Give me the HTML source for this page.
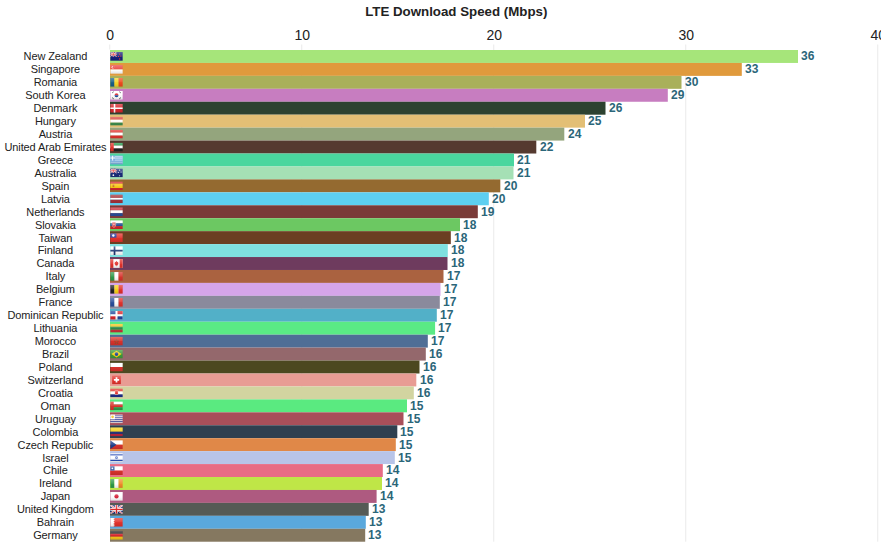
<!DOCTYPE html>
<html><head><meta charset="utf-8"><title>LTE Download Speed (Mbps)</title>
<style>
html,body{margin:0;padding:0;background:#fff;}
body{width:881px;height:551px;position:relative;overflow:hidden;font-family:"Liberation Sans",sans-serif;}
.t{position:absolute;left:156.25px;width:600px;top:4px;text-align:center;font-weight:bold;font-size:13.3px;line-height:16px;color:#222;}
.ax{position:absolute;top:27px;width:40px;margin-left:-20px;text-align:center;font-size:14px;line-height:16px;color:#222;}
.l{position:absolute;left:0;width:110.8px;letter-spacing:-0.1px;text-align:center;font-size:11px;line-height:13px;color:#222;white-space:nowrap;}
.v{position:absolute;font-size:12px;font-weight:bold;line-height:13px;color:#2b6679;}
#c{position:absolute;left:0;top:0;width:881px;height:551px;display:block;}
#w{position:absolute;left:0;top:0;width:881px;height:551px;overflow:hidden;}
</style></head><body><div id="w">
<div class="t">LTE Download Speed (Mbps)</div>

<svg id="c" viewBox="0 0 881 551">
<defs><linearGradient id="gl" x1="0" y1="0" x2="0" y2="1"><stop offset="0" stop-color="#fff" stop-opacity="0.3"/><stop offset="0.5" stop-color="#fff" stop-opacity="0.08"/><stop offset="0.55" stop-color="#000" stop-opacity="0"/><stop offset="1" stop-color="#000" stop-opacity="0.12"/></linearGradient></defs>
<rect x="109.25" y="44.5" width="1" height="5.0" fill="#eaeaea"/>
<rect x="301.25" y="44.5" width="1" height="497.2" fill="#eaeaea"/>
<rect x="493.25" y="44.5" width="1" height="497.2" fill="#eaeaea"/>
<rect x="685.25" y="44.5" width="1" height="497.2" fill="#eaeaea"/>
<rect x="877.25" y="44.5" width="1" height="497.2" fill="#eaeaea"/>
<rect x="110.0" y="50.000" width="688.0" height="12.94" fill="#a6e57a"/>
<svg x="110.20" y="52.07" width="12.6" height="8.8" viewBox="0 0 16 11" preserveAspectRatio="none"><rect width="16" height="11" fill="#17207c"/><rect width="8" height="5.5" fill="#1b2d7a"/><path d="M0 0L8 5.5M8 0L0 5.5" stroke="#fff" stroke-width="1.2"/><path d="M0 0L8 5.5M8 0L0 5.5" stroke="#d22" stroke-width="0.5"/><path d="M4 0V5.5M0 2.75H8" stroke="#fff" stroke-width="1.8"/><path d="M4 0V5.5M0 2.75H8" stroke="#d22" stroke-width="1"/><circle cx="12" cy="2.5" r="0.8" fill="#e33"/><circle cx="10.5" cy="5.5" r="0.8" fill="#e33"/><circle cx="13.5" cy="5" r="0.8" fill="#e33"/><circle cx="12" cy="8.7" r="0.9" fill="#e33"/><rect width="16" height="11" fill="url(#gl)"/></svg>
<rect x="110.0" y="62.940" width="631.8" height="12.94" fill="#e09a3c"/>
<svg x="110.20" y="65.01" width="12.6" height="8.8" viewBox="0 0 16 11" preserveAspectRatio="none"><rect x="0" y="0.00" width="16" height="5.55" fill="#e8413c"/><rect x="0" y="5.50" width="16" height="5.55" fill="#ffffff"/><circle cx="3.6" cy="2.8" r="1.7" fill="#fff"/><circle cx="4.4" cy="2.8" r="1.5" fill="#e8413c"/><rect width="16" height="11" fill="url(#gl)"/></svg>
<rect x="110.0" y="75.880" width="571.5" height="12.94" fill="#a9b05a"/>
<svg x="110.20" y="77.95" width="12.6" height="8.8" viewBox="0 0 16 11" preserveAspectRatio="none"><rect x="0.00" y="0" width="5.38" height="11" fill="#175f88"/><rect x="5.33" y="0" width="5.38" height="11" fill="#f7d62a"/><rect x="10.67" y="0" width="5.38" height="11" fill="#f04a1c"/><rect width="16" height="11" fill="url(#gl)"/></svg>
<rect x="110.0" y="88.820" width="557.8" height="12.94" fill="#c77dc0"/>
<svg x="110.20" y="90.89" width="12.6" height="8.8" viewBox="0 0 16 11" preserveAspectRatio="none"><rect width="16" height="11" fill="#fff"/><path d="M5.5 5.5a2.5 2.5 0 0 1 5 0z" fill="#d8262c"/><path d="M5.5 5.5a2.5 2.5 0 0 0 5 0z" fill="#1f4a9c"/><path d="M2.5 2.5l2-1.5M11.5 1l2 1.5M2.5 8.5l2 1.5M11.5 10l2-1.5" stroke="#222" stroke-width="1"/><rect width="16" height="11" fill="url(#gl)"/></svg>
<rect x="110.0" y="101.760" width="495.5" height="12.94" fill="#2d4230"/>
<svg x="110.20" y="103.83" width="12.6" height="8.8" viewBox="0 0 16 11" preserveAspectRatio="none"><rect width="16" height="11" fill="#d8262c"/><path d="M5.5 0V11M0 5.5H16" stroke="#fff" stroke-width="2"/><rect width="16" height="11" fill="url(#gl)"/></svg>
<rect x="110.0" y="114.700" width="475.0" height="12.94" fill="#e3bf75"/>
<svg x="110.20" y="116.77" width="12.6" height="8.8" viewBox="0 0 16 11" preserveAspectRatio="none"><rect x="0" y="0.00" width="16" height="3.72" fill="#d8433c"/><rect x="0" y="3.67" width="16" height="3.72" fill="#ffffff"/><rect x="0" y="7.33" width="16" height="3.72" fill="#3f8f4f"/><rect width="16" height="11" fill="url(#gl)"/></svg>
<rect x="110.0" y="127.640" width="454.3" height="12.94" fill="#94a57d"/>
<svg x="110.20" y="129.71" width="12.6" height="8.8" viewBox="0 0 16 11" preserveAspectRatio="none"><rect x="0" y="0.00" width="16" height="3.72" fill="#e2322c"/><rect x="0" y="3.67" width="16" height="3.72" fill="#ffffff"/><rect x="0" y="7.33" width="16" height="3.72" fill="#e2322c"/><rect width="16" height="11" fill="url(#gl)"/></svg>
<rect x="110.0" y="140.580" width="426.3" height="12.94" fill="#553a30"/>
<svg x="110.20" y="142.65" width="12.6" height="8.8" viewBox="0 0 16 11" preserveAspectRatio="none"><rect x="0" y="0.00" width="16" height="3.72" fill="#1f9a4a"/><rect x="0" y="3.67" width="16" height="3.72" fill="#ffffff"/><rect x="0" y="7.33" width="16" height="3.72" fill="#222222"/><rect width="4.5" height="11" fill="#e2322c"/><rect width="16" height="11" fill="url(#gl)"/></svg>
<rect x="110.0" y="153.520" width="404.0" height="12.94" fill="#4ad69e"/>
<svg x="110.20" y="155.59" width="12.6" height="8.8" viewBox="0 0 16 11" preserveAspectRatio="none"><rect width="16" height="11" fill="#7fb2e0"/><path d="M0 1.8H16M0 4.3H16M0 6.7H16M0 9.2H16" stroke="#fff" stroke-width="1.2" opacity="0.0"/><rect x="0" y="0.00" width="16" height="1.27" fill="#6aa6dc"/><rect x="0" y="1.22" width="16" height="1.27" fill="#d4e6f6"/><rect x="0" y="2.44" width="16" height="1.27" fill="#6aa6dc"/><rect x="0" y="3.67" width="16" height="1.27" fill="#d4e6f6"/><rect x="0" y="4.89" width="16" height="1.27" fill="#6aa6dc"/><rect x="0" y="6.11" width="16" height="1.27" fill="#d4e6f6"/><rect x="0" y="7.33" width="16" height="1.27" fill="#6aa6dc"/><rect x="0" y="8.56" width="16" height="1.27" fill="#d4e6f6"/><rect x="0" y="9.78" width="16" height="1.27" fill="#6aa6dc"/><rect width="6.1" height="6.1" fill="#6aa6dc"/><path d="M3.05 0V6.1M0 3.05H6.1" stroke="#fff" stroke-width="1.2"/><rect width="16" height="11" fill="url(#gl)"/></svg>
<rect x="110.0" y="166.460" width="403.5" height="12.94" fill="#a5e0b5"/>
<svg x="110.20" y="168.53" width="12.6" height="8.8" viewBox="0 0 16 11" preserveAspectRatio="none"><rect width="16" height="11" fill="#1b2d7a"/><rect width="8" height="5.5" fill="#1b2d7a"/><path d="M0 0L8 5.5M8 0L0 5.5" stroke="#fff" stroke-width="1.2"/><path d="M0 0L8 5.5M8 0L0 5.5" stroke="#d22" stroke-width="0.5"/><path d="M4 0V5.5M0 2.75H8" stroke="#fff" stroke-width="1.8"/><path d="M4 0V5.5M0 2.75H8" stroke="#d22" stroke-width="1"/><circle cx="4" cy="8.3" r="1.1" fill="#fff"/><circle cx="12" cy="2" r="0.7" fill="#fff"/><circle cx="10.3" cy="5" r="0.7" fill="#fff"/><circle cx="13.8" cy="4.3" r="0.7" fill="#fff"/><circle cx="12" cy="9" r="0.7" fill="#fff"/><rect width="16" height="11" fill="url(#gl)"/></svg>
<rect x="110.0" y="179.400" width="390.3" height="12.94" fill="#946a30"/>
<svg x="110.20" y="181.47" width="12.6" height="8.8" viewBox="0 0 16 11" preserveAspectRatio="none"><rect x="0" y="0.00" width="16" height="2.80" fill="#d8262c"/><rect x="0" y="2.75" width="16" height="5.55" fill="#f9c81a"/><rect x="0" y="8.25" width="16" height="2.80" fill="#d8262c"/><rect x="3" y="4" width="2.2" height="3" fill="#c9772a"/><rect width="16" height="11" fill="url(#gl)"/></svg>
<rect x="110.0" y="192.340" width="378.8" height="12.94" fill="#5dcff0"/>
<svg x="110.20" y="194.41" width="12.6" height="8.8" viewBox="0 0 16 11" preserveAspectRatio="none"><rect x="0" y="0.00" width="16" height="4.45" fill="#a5343a"/><rect x="0" y="4.40" width="16" height="2.25" fill="#ffffff"/><rect x="0" y="6.60" width="16" height="4.45" fill="#a5343a"/><rect width="16" height="11" fill="url(#gl)"/></svg>
<rect x="110.0" y="205.280" width="367.8" height="12.94" fill="#7a3a38"/>
<svg x="110.20" y="207.35" width="12.6" height="8.8" viewBox="0 0 16 11" preserveAspectRatio="none"><rect x="0" y="0.00" width="16" height="3.72" fill="#c8313a"/><rect x="0" y="3.67" width="16" height="3.72" fill="#ffffff"/><rect x="0" y="7.33" width="16" height="3.72" fill="#2a4f9c"/><rect width="16" height="11" fill="url(#gl)"/></svg>
<rect x="110.0" y="218.220" width="350.0" height="12.94" fill="#6cc862"/>
<svg x="110.20" y="220.29" width="12.6" height="8.8" viewBox="0 0 16 11" preserveAspectRatio="none"><rect x="0" y="0.00" width="16" height="3.72" fill="#ffffff"/><rect x="0" y="3.67" width="16" height="3.72" fill="#2a4f9c"/><rect x="0" y="7.33" width="16" height="3.72" fill="#d8262c"/><path d="M2.5 2.5h4.5v3.5q0 2-2.25 3q-2.25-1-2.25-3z" fill="#d8262c" stroke="#fff" stroke-width="0.6"/><path d="M4.75 3.5v4M3.6 5h2.3" stroke="#fff" stroke-width="0.7"/><rect width="16" height="11" fill="url(#gl)"/></svg>
<rect x="110.0" y="231.160" width="340.8" height="12.94" fill="#6b3f22"/>
<svg x="110.20" y="233.23" width="12.6" height="8.8" viewBox="0 0 16 11" preserveAspectRatio="none"><rect width="16" height="11" fill="#e2322c"/><rect width="8" height="5.5" fill="#1f3a9c"/><circle cx="4" cy="2.75" r="1.5" fill="#fff"/><rect width="16" height="11" fill="url(#gl)"/></svg>
<rect x="110.0" y="244.100" width="337.8" height="12.94" fill="#7fe0e0"/>
<svg x="110.20" y="246.17" width="12.6" height="8.8" viewBox="0 0 16 11" preserveAspectRatio="none"><rect width="16" height="11" fill="#fff"/><path d="M5.5 0V11M0 5.5H16" stroke="#1f3a74" stroke-width="2.2"/><rect width="16" height="11" fill="url(#gl)"/></svg>
<rect x="110.0" y="257.040" width="337.5" height="12.94" fill="#6e3b5e"/>
<svg x="110.20" y="259.11" width="12.6" height="8.8" viewBox="0 0 16 11" preserveAspectRatio="none"><rect width="16" height="11" fill="#fff"/><rect width="4" height="11" fill="#e2322c"/><rect x="12" width="4" height="11" fill="#e2322c"/><path d="M8 2l1 1.6 1.4-.4-.5 2 1.1.6-1.6 1.2.2 1-1.3-.3V9h-.6V7.700l-1.300.3.200-1-1.600-1.200 1.100-.600-.500-2 1.400.4z" fill="#e2322c"/><rect width="16" height="11" fill="url(#gl)"/></svg>
<rect x="110.0" y="269.980" width="333.5" height="12.94" fill="#aa6240"/>
<svg x="110.20" y="272.05" width="12.6" height="8.8" viewBox="0 0 16 11" preserveAspectRatio="none"><rect x="0.00" y="0" width="5.38" height="11" fill="#2f9a4a"/><rect x="5.33" y="0" width="5.38" height="11" fill="#ffffff"/><rect x="10.67" y="0" width="5.38" height="11" fill="#d8322c"/><rect width="16" height="11" fill="url(#gl)"/></svg>
<rect x="110.0" y="282.920" width="330.5" height="12.94" fill="#d5a5ea"/>
<svg x="110.20" y="284.99" width="12.6" height="8.8" viewBox="0 0 16 11" preserveAspectRatio="none"><rect x="0.00" y="0" width="5.38" height="11" fill="#222222"/><rect x="5.33" y="0" width="5.38" height="11" fill="#f7d117"/><rect x="10.67" y="0" width="5.38" height="11" fill="#e2322c"/><rect width="16" height="11" fill="url(#gl)"/></svg>
<rect x="110.0" y="295.860" width="329.8" height="12.94" fill="#8a8a9c"/>
<svg x="110.20" y="297.93" width="12.6" height="8.8" viewBox="0 0 16 11" preserveAspectRatio="none"><rect x="0.00" y="0" width="5.38" height="11" fill="#2a4f9c"/><rect x="5.33" y="0" width="5.38" height="11" fill="#ffffff"/><rect x="10.67" y="0" width="5.38" height="11" fill="#e2322c"/><rect width="16" height="11" fill="url(#gl)"/></svg>
<rect x="110.0" y="308.800" width="326.8" height="12.94" fill="#52b0c8"/>
<svg x="110.20" y="310.87" width="12.6" height="8.8" viewBox="0 0 16 11" preserveAspectRatio="none"><rect width="16" height="11" fill="#fff"/><rect width="6.7" height="4.2" fill="#1f4a9c"/><rect x="9.3" width="6.7" height="4.2" fill="#d8262c"/><rect y="6.8" width="6.7" height="4.2" fill="#d8262c"/><rect x="9.3" y="6.8" width="6.7" height="4.2" fill="#1f4a9c"/><rect width="16" height="11" fill="url(#gl)"/></svg>
<rect x="110.0" y="321.740" width="325.1" height="12.94" fill="#5aea85"/>
<svg x="110.20" y="323.81" width="12.6" height="8.8" viewBox="0 0 16 11" preserveAspectRatio="none"><rect x="0" y="0.00" width="16" height="3.72" fill="#f4c31a"/><rect x="0" y="3.67" width="16" height="3.72" fill="#2f8a4a"/><rect x="0" y="7.33" width="16" height="3.72" fill="#c8313a"/><rect width="16" height="11" fill="url(#gl)"/></svg>
<rect x="110.0" y="334.680" width="317.8" height="12.94" fill="#4f6e96"/>
<svg x="110.20" y="336.75" width="12.6" height="8.8" viewBox="0 0 16 11" preserveAspectRatio="none"><rect width="16" height="11" fill="#d8322c"/><path d="M8 3l.75 2.200h2.300l-1.850 1.350.700 2.200L8 7.400 6.100 8.750l.700-2.200L4.950 5.200h2.300z" fill="none" stroke="#2f7a3a" stroke-width="0.6" opacity="0.55"/><rect width="16" height="11" fill="url(#gl)"/></svg>
<rect x="110.0" y="347.620" width="315.8" height="12.94" fill="#94686c"/>
<svg x="110.20" y="349.69" width="12.6" height="8.8" viewBox="0 0 16 11" preserveAspectRatio="none"><rect width="16" height="11" fill="#3f9a3a"/><path d="M8 1.200L14.500 5.500 8 9.800 1.500 5.500z" fill="#f7d117"/><circle cx="8" cy="5.5" r="2.300" fill="#2a4f9c"/><rect width="16" height="11" fill="url(#gl)"/></svg>
<rect x="110.0" y="360.560" width="309.5" height="12.94" fill="#4c4820"/>
<svg x="110.20" y="362.63" width="12.6" height="8.8" viewBox="0 0 16 11" preserveAspectRatio="none"><rect x="0" y="0.00" width="16" height="5.55" fill="#ffffff"/><rect x="0" y="5.50" width="16" height="5.55" fill="#d8322c"/><rect width="16" height="11" fill="url(#gl)"/></svg>
<rect x="110.0" y="373.500" width="306.3" height="12.94" fill="#e89c94"/>
<svg x="112.10" y="375.57" width="8.8" height="8.8" viewBox="0 0 11 11" preserveAspectRatio="none"><rect width="11" height="11" fill="#e2322c"/><path d="M5.5 2.2V8.8M2.2 5.5H8.8" stroke="#fff" stroke-width="2.2"/><rect width="11" height="11" fill="url(#gl)"/></svg>
<rect x="110.0" y="386.440" width="303.8" height="12.94" fill="#d2d4a0"/>
<svg x="110.20" y="388.51" width="12.6" height="8.8" viewBox="0 0 16 11" preserveAspectRatio="none"><rect x="0" y="0.00" width="16" height="3.72" fill="#e2322c"/><rect x="0" y="3.67" width="16" height="3.72" fill="#ffffff"/><rect x="0" y="7.33" width="16" height="3.72" fill="#1c2c8a"/><rect x="6" y="3" width="4" height="4.500" fill="#e2322c" stroke="#fff" stroke-width="0.500"/><rect width="16" height="11" fill="url(#gl)"/></svg>
<rect x="110.0" y="399.380" width="297.0" height="12.94" fill="#5aea80"/>
<svg x="110.20" y="401.45" width="12.6" height="8.8" viewBox="0 0 16 11" preserveAspectRatio="none"><rect x="0" y="0.00" width="16" height="3.72" fill="#ffffff"/><rect x="0" y="3.67" width="16" height="3.72" fill="#d8322c"/><rect x="0" y="7.33" width="16" height="3.72" fill="#2f9a4a"/><rect width="4.500" height="11" fill="#d8322c"/><rect width="16" height="11" fill="url(#gl)"/></svg>
<rect x="110.0" y="412.320" width="293.5" height="12.94" fill="#a84f5a"/>
<svg x="110.20" y="414.39" width="12.6" height="8.8" viewBox="0 0 16 11" preserveAspectRatio="none"><rect x="0" y="0.00" width="16" height="1.27" fill="#ffffff"/><rect x="0" y="1.22" width="16" height="1.27" fill="#3a5fb8"/><rect x="0" y="2.44" width="16" height="1.27" fill="#ffffff"/><rect x="0" y="3.67" width="16" height="1.27" fill="#3a5fb8"/><rect x="0" y="4.89" width="16" height="1.27" fill="#ffffff"/><rect x="0" y="6.11" width="16" height="1.27" fill="#3a5fb8"/><rect x="0" y="7.33" width="16" height="1.27" fill="#ffffff"/><rect x="0" y="8.56" width="16" height="1.27" fill="#3a5fb8"/><rect x="0" y="9.78" width="16" height="1.27" fill="#ffffff"/><rect width="6" height="6.100" fill="#fff"/><circle cx="3" cy="3" r="1.700" fill="#f4c31a"/><rect width="16" height="11" fill="url(#gl)"/></svg>
<rect x="110.0" y="425.260" width="287.3" height="12.94" fill="#2f4050"/>
<svg x="110.20" y="427.33" width="12.6" height="8.8" viewBox="0 0 16 11" preserveAspectRatio="none"><rect x="0" y="0.00" width="16" height="5.55" fill="#f7d117"/><rect x="0" y="5.50" width="16" height="2.80" fill="#25357c"/><rect x="0" y="8.25" width="16" height="2.80" fill="#c0243c"/><rect width="16" height="11" fill="url(#gl)"/></svg>
<rect x="110.0" y="438.200" width="285.8" height="12.94" fill="#e08848"/>
<svg x="110.20" y="440.27" width="12.6" height="8.8" viewBox="0 0 16 11" preserveAspectRatio="none"><rect x="0" y="0.00" width="16" height="5.55" fill="#ffffff"/><rect x="0" y="5.50" width="16" height="5.55" fill="#d8322c"/><path d="M0 0L8 5.500 0 11z" fill="#1f3f8c"/><rect width="16" height="11" fill="url(#gl)"/></svg>
<rect x="110.0" y="451.140" width="284.8" height="12.94" fill="#b8c4e8"/>
<svg x="110.20" y="453.21" width="12.6" height="8.8" viewBox="0 0 16 11" preserveAspectRatio="none"><rect width="16" height="11" fill="#fff"/><rect y="1.200" width="16" height="1.600" fill="#2a4fb8"/><rect y="8.200" width="16" height="1.600" fill="#2a4fb8"/><path d="M8 3.700l1.600 2.700H6.400zM8 7.300L6.400 4.600h3.200z" fill="none" stroke="#2a4fb8" stroke-width="0.500"/><rect width="16" height="11" fill="url(#gl)"/></svg>
<rect x="110.0" y="464.080" width="272.8" height="12.94" fill="#e86c84"/>
<svg x="110.20" y="466.15" width="12.6" height="8.8" viewBox="0 0 16 11" preserveAspectRatio="none"><rect x="0" y="0.00" width="16" height="5.55" fill="#ffffff"/><rect x="0" y="5.50" width="16" height="5.55" fill="#d8322c"/><rect width="5.500" height="5.500" fill="#2a4f9c"/><circle cx="2.750" cy="2.750" r="1.100" fill="#fff"/><rect width="16" height="11" fill="url(#gl)"/></svg>
<rect x="110.0" y="477.020" width="272.0" height="12.94" fill="#bfe647"/>
<svg x="110.20" y="479.09" width="12.6" height="8.8" viewBox="0 0 16 11" preserveAspectRatio="none"><rect x="0.00" y="0" width="5.38" height="11" fill="#2f9a4a"/><rect x="5.33" y="0" width="5.38" height="11" fill="#ffffff"/><rect x="10.67" y="0" width="5.38" height="11" fill="#f08a2a"/><rect width="16" height="11" fill="url(#gl)"/></svg>
<rect x="110.0" y="489.960" width="266.6" height="12.94" fill="#ae5a80"/>
<svg x="110.20" y="492.03" width="12.6" height="8.8" viewBox="0 0 16 11" preserveAspectRatio="none"><rect width="16" height="11" fill="#fff"/><circle cx="8" cy="5.500" r="2.700" fill="#d8263c"/><rect width="16" height="11" fill="url(#gl)"/></svg>
<rect x="110.0" y="502.900" width="258.7" height="12.94" fill="#555a55"/>
<svg x="110.20" y="504.97" width="12.6" height="8.8" viewBox="0 0 16 11" preserveAspectRatio="none"><rect width="16" height="11" fill="#1b2d7a"/><path d="M0 0L16 11M16 0L0 11" stroke="#fff" stroke-width="2.200"/><path d="M0 0L16 11M16 0L0 11" stroke="#d22" stroke-width="0.800"/><path d="M8 0V11M0 5.500H16" stroke="#fff" stroke-width="3.400"/><path d="M8 0V11M0 5.500H16" stroke="#d22" stroke-width="1.800"/><rect width="16" height="11" fill="url(#gl)"/></svg>
<rect x="110.0" y="515.840" width="255.8" height="12.94" fill="#5aa8dc"/>
<svg x="110.20" y="517.91" width="12.6" height="8.8" viewBox="0 0 16 11" preserveAspectRatio="none"><rect width="16" height="11" fill="#e2322c"/><path d="M0 0H4l2 1.100-2 1.100 2 1.100-2 1.100 2 1.100-2 1.100 2 1.100-2 1.100 2 1.100-2 1.100H0z" fill="#fff"/><rect width="16" height="11" fill="url(#gl)"/></svg>
<rect x="110.0" y="528.780" width="255.2" height="12.94" fill="#857860"/>
<svg x="110.20" y="530.85" width="12.6" height="8.8" viewBox="0 0 16 11" preserveAspectRatio="none"><rect x="0" y="0.00" width="16" height="3.72" fill="#222222"/><rect x="0" y="3.67" width="16" height="3.72" fill="#d8262c"/><rect x="0" y="7.33" width="16" height="3.72" fill="#f7c81a"/><rect width="16" height="11" fill="url(#gl)"/></svg>
</svg>
<div class="ax" style="left:110.25px">0</div>
<div class="ax" style="left:302.25px">10</div>
<div class="ax" style="left:494.25px">20</div>
<div class="ax" style="left:686.25px">30</div>
<div class="ax" style="left:878.25px">40</div>
<div class="l" style="top:50px">New Zealand</div>
<div class="v" style="left:801px;top:50px">36</div>
<div class="l" style="top:63px">Singapore</div>
<div class="v" style="left:745px;top:63px">33</div>
<div class="l" style="top:76px">Romania</div>
<div class="v" style="left:685px;top:76px">30</div>
<div class="l" style="top:89px">South Korea</div>
<div class="v" style="left:671px;top:89px">29</div>
<div class="l" style="top:102px">Denmark</div>
<div class="v" style="left:609px;top:102px">26</div>
<div class="l" style="top:115px">Hungary</div>
<div class="v" style="left:588px;top:115px">25</div>
<div class="l" style="top:128px">Austria</div>
<div class="v" style="left:568px;top:128px">24</div>
<div class="l" style="top:141px">United Arab Emirates</div>
<div class="v" style="left:540px;top:141px">22</div>
<div class="l" style="top:154px">Greece</div>
<div class="v" style="left:517px;top:154px">21</div>
<div class="l" style="top:167px">Australia</div>
<div class="v" style="left:517px;top:167px">21</div>
<div class="l" style="top:180px">Spain</div>
<div class="v" style="left:504px;top:180px">20</div>
<div class="l" style="top:193px">Latvia</div>
<div class="v" style="left:492px;top:193px">20</div>
<div class="l" style="top:206px">Netherlands</div>
<div class="v" style="left:481px;top:206px">19</div>
<div class="l" style="top:219px">Slovakia</div>
<div class="v" style="left:463px;top:219px">18</div>
<div class="l" style="top:232px">Taiwan</div>
<div class="v" style="left:454px;top:232px">18</div>
<div class="l" style="top:244px">Finland</div>
<div class="v" style="left:451px;top:244px">18</div>
<div class="l" style="top:257px">Canada</div>
<div class="v" style="left:451px;top:257px">18</div>
<div class="l" style="top:270px">Italy</div>
<div class="v" style="left:447px;top:270px">17</div>
<div class="l" style="top:283px">Belgium</div>
<div class="v" style="left:444px;top:283px">17</div>
<div class="l" style="top:296px">France</div>
<div class="v" style="left:443px;top:296px">17</div>
<div class="l" style="top:309px">Dominican Republic</div>
<div class="v" style="left:440px;top:309px">17</div>
<div class="l" style="top:322px">Lithuania</div>
<div class="v" style="left:438px;top:322px">17</div>
<div class="l" style="top:335px">Morocco</div>
<div class="v" style="left:431px;top:335px">17</div>
<div class="l" style="top:348px">Brazil</div>
<div class="v" style="left:429px;top:348px">16</div>
<div class="l" style="top:361px">Poland</div>
<div class="v" style="left:423px;top:361px">16</div>
<div class="l" style="top:374px">Switzerland</div>
<div class="v" style="left:420px;top:374px">16</div>
<div class="l" style="top:387px">Croatia</div>
<div class="v" style="left:417px;top:387px">16</div>
<div class="l" style="top:400px">Oman</div>
<div class="v" style="left:410px;top:400px">15</div>
<div class="l" style="top:413px">Uruguay</div>
<div class="v" style="left:407px;top:413px">15</div>
<div class="l" style="top:426px">Colombia</div>
<div class="v" style="left:400px;top:426px">15</div>
<div class="l" style="top:439px">Czech Republic</div>
<div class="v" style="left:399px;top:439px">15</div>
<div class="l" style="top:452px">Israel</div>
<div class="v" style="left:398px;top:452px">15</div>
<div class="l" style="top:464px">Chile</div>
<div class="v" style="left:386px;top:464px">14</div>
<div class="l" style="top:477px">Ireland</div>
<div class="v" style="left:385px;top:477px">14</div>
<div class="l" style="top:490px">Japan</div>
<div class="v" style="left:380px;top:490px">14</div>
<div class="l" style="top:503px">United Kingdom</div>
<div class="v" style="left:372px;top:503px">13</div>
<div class="l" style="top:516px">Bahrain</div>
<div class="v" style="left:369px;top:516px">13</div>
<div class="l" style="top:529px">Germany</div>
<div class="v" style="left:368px;top:529px">13</div>
</div></body></html>
